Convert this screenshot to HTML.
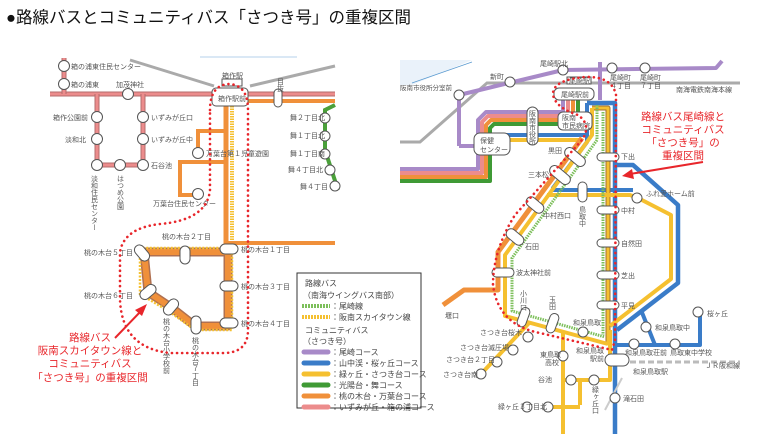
<!DOCTYPE html>
<html><head><meta charset="utf-8"><style>
html,body{margin:0;padding:0;background:#fff;width:759px;height:434px;overflow:hidden}
svg{display:block;font-family:"Liberation Sans","Noto Sans CJK JP",sans-serif}
.t{font-size:7px;fill:#555}
.r{font-size:10.5px;fill:#e8262b}
.lg{font-size:8px;fill:#444}
</style></head><body>
<svg width="759" height="434" viewBox="0 0 759 434">
<text x="6" y="23" font-size="16.5" fill="#111">●路線バスとコミュニティバス「さつき号」の重複区間</text>

<!-- LEFT MAP -->
<line x1="200" y1="57" x2="297" y2="57" stroke="#6aa5d8" stroke-width="0.6"/>
<polyline points="130,60 214,86" stroke="#aaa" stroke-width="3" fill="none"/>
<polyline points="250,86 335,66" stroke="#aaa" stroke-width="3" fill="none"/>
<line x1="50" y1="94" x2="335" y2="94" stroke="#b56c6c" stroke-width="5"/>
<line x1="50" y1="94" x2="335" y2="94" stroke="#ec8c8c" stroke-width="3"/>
<g stroke="#b56c6c" stroke-width="5" fill="none"><polyline points="64,58 64,94"/><polyline points="97,94 97,165 143,165 143,94"/></g>
<g stroke="#ec8c8c" stroke-width="3" fill="none"><polyline points="64,58 64,94"/><polyline points="97,94 97,165 143,165 143,94"/></g>
<line x1="248" y1="101" x2="335" y2="101" stroke="#f0903a" stroke-width="4"/>
<line x1="226" y1="106" x2="226" y2="250" stroke="#f0903a" stroke-width="5"/>
<line x1="232" y1="106" x2="232" y2="250" stroke="#f5c030" stroke-width="4" stroke-dasharray="1.5 1"/>
<line x1="226" y1="243" x2="335" y2="243" stroke="#f0903a" stroke-width="4"/>
<polyline points="226,131 198,131 198,153" stroke="#f0903a" stroke-width="4" fill="none"/>
<polyline points="226,162 180,162 180,195 198,195" stroke="#f0903a" stroke-width="4" fill="none"/>
<path d="M335,105 L325,110 L325,150 L338,190" stroke="#4aa03a" stroke-width="4" fill="none"/>
<polygon points="144,252 228,252 228,326 195,326 172,308 148,292" stroke="#b07050" stroke-width="9" fill="none" stroke-linejoin="round"/>
<polygon points="144,252 228,252 228,326 195,326 172,308 148,292" stroke="#f0903a" stroke-width="6" fill="none"/>
<path d="M140,251 L140,294 L170,312 L195,330 L232,330 L232,248 L140,248" stroke="#f5c030" stroke-width="2.5" stroke-dasharray="2 1.5" fill="none"/>
<g fill="#fff" stroke="#555" stroke-width="1">
<circle cx="64" cy="66" r="5.5"/><circle cx="64" cy="84" r="5.5"/><circle cx="128" cy="94" r="5.5"/>
<circle cx="97" cy="117" r="5.5"/><circle cx="97" cy="139" r="5.5"/><circle cx="97" cy="165" r="5.5"/><circle cx="120" cy="165" r="5.5"/><circle cx="143" cy="165" r="5.5"/><circle cx="143" cy="117" r="5.5"/><circle cx="143" cy="139" r="5.5"/>
<circle cx="198" cy="153" r="5.5"/><circle cx="198" cy="194" r="5.5"/>
<circle cx="325" cy="118" r="5"/><circle cx="325" cy="136" r="5"/><circle cx="325" cy="154" r="5"/><circle cx="330" cy="170" r="5"/><circle cx="335" cy="186" r="5"/>
<rect x="212" y="88" width="36" height="18" rx="4"/><rect x="222" y="79" width="20" height="7"/>
<rect x="274" y="89" width="8" height="18" rx="4"/>
<rect x="180" y="246" width="10" height="18" rx="5"/><rect x="220" y="244" width="18" height="10" rx="5"/>
<rect x="220" y="281" width="18" height="10" rx="5"/><rect x="220" y="318" width="18" height="10" rx="5"/>
<rect x="191" y="316" width="10" height="18" rx="5"/>
<rect x="137" y="244" width="10" height="18" rx="5" transform="rotate(-40 142 253)"/>
<rect x="143" y="283" width="10" height="18" rx="5" transform="rotate(50 148 292)"/>
<rect x="166" y="298" width="10" height="18" rx="5" transform="rotate(40 171 307)"/>
</g>
<g class="t">
<text x="71" y="69">箱の浦東住民センター</text><text x="71" y="87">箱の浦東</text><text x="116" y="87">加茂神社</text>
<text x="53" y="120">箱作公園前</text><text x="65" y="142">淡和北</text><text x="151" y="120">いずみが丘口</text><text x="151" y="142">いずみが丘中</text><text x="151" y="168">石谷池</text>
<text x="218" y="101">箱作駅前</text><text x="222" y="78">箱作駅</text><text x="206" y="156">万葉台第１児童遊園</text><text x="153" y="206">万葉台住民センター</text>
<text x="290" y="120">舞２丁目北</text><text x="290" y="138">舞１丁目北</text><text x="290" y="156">舞１丁目南</text><text x="288" y="172">舞４丁目北</text><text x="300" y="189">舞４丁目</text>
<text x="162" y="239">桃の木台２丁目</text><text x="84" y="255">桃の木台５丁目</text><text x="241" y="252">桃の木台１丁目</text><text x="241" y="289">桃の木台３丁目</text><text x="84" y="298">桃の木台６丁目</text><text x="241" y="326">桃の木台４丁目</text>
</g>
<g class="t"><text x="94" y="175" writing-mode="tb">淡和住民センター</text><text x="120" y="175" writing-mode="tb">はつめ公園</text><text x="166" y="318" writing-mode="tb">桃の木台小学校前</text><text x="195" y="337" writing-mode="tb">桃の木台７丁目</text><text x="280" y="78" writing-mode="tb">目抜</text></g>
<path d="M210,110 Q210,85 229,84 Q248,85 248,110 L248,330 Q248,352 225,353 L170,353 Q122,348 120,300 L120,252 Q124,228 160,224 Q207,220 210,190 Z" stroke="#e8262b" stroke-width="2.6" stroke-dasharray="0.1 5" stroke-linecap="round" fill="none"/>
<text class="r" text-anchor="middle"><tspan x="90" y="341">路線バス</tspan><tspan x="90" y="354">阪南スカイタウン線と</tspan><tspan x="90" y="367">コミュニティバス</tspan><tspan x="90" y="381">「さつき号」の重複区間</tspan></text>
<line x1="115" y1="338" x2="142" y2="310" stroke="#e8262b" stroke-width="2"/><polygon points="147,304 135,310 142,316" fill="#e8262b"/>

<!-- LEGEND -->
<rect x="297" y="273" width="124" height="135" fill="#fff" stroke="#333" stroke-width="1"/>
<g class="lg">
<text x="305" y="286">路線バス</text><text x="303" y="298">（南海ウイングバス南部）</text>
<text x="331" y="309">：尾崎線</text><text x="331" y="320">：阪南スカイタウン線</text>
<text x="305" y="333">コミュニティバス</text><text x="303" y="344">（さつき号）</text>
<text x="331" y="355">：尾崎コース</text><text x="331" y="366">：山中渓・桜ヶ丘コース</text><text x="331" y="377">：緑ヶ丘・さつき台コース</text><text x="331" y="388">：光陽台・舞コース</text><text x="331" y="399">：桃の木台・万葉台コース</text><text x="331" y="410">：いずみが丘・箱の浦コース</text>
</g>
<line x1="302" y1="306" x2="330" y2="306" stroke="#7cbf5a" stroke-width="4" stroke-dasharray="2 1"/>
<line x1="302" y1="317" x2="330" y2="317" stroke="#f5c030" stroke-width="4" stroke-dasharray="2 1"/>
<g stroke-width="5" stroke-linecap="round">
<line x1="304" y1="352" x2="328" y2="352" stroke="#a88ac8"/><line x1="304" y1="363" x2="328" y2="363" stroke="#3a7cc8"/><line x1="304" y1="374" x2="328" y2="374" stroke="#f5c030"/><line x1="304" y1="385" x2="328" y2="385" stroke="#3f9a35"/><line x1="304" y1="396" x2="328" y2="396" stroke="#f0903a"/><line x1="304" y1="407" x2="328" y2="407" stroke="#ec8c8c"/>
</g>

<!-- RIGHT MAP -->
<polygon points="400,60 472,60 412,85 400,85" fill="#eaf2fa"/>
<line x1="412" y1="83" x2="472" y2="62" stroke="#5a9ad0" stroke-width="0.7"/>
<polyline points="400,142 420,142 487,83 740,83" stroke="#aaa" stroke-width="3" fill="none"/>
<text class="t" x="676" y="92">南海電鉄南海本線</text>
<g fill="none" stroke-linejoin="round">
<polyline points="459,146 459,95 563,70 716,68 722,61" stroke="#a88ac8" stroke-width="4"/>
<line x1="600" y1="62" x2="600" y2="100" stroke="#a88ac8" stroke-width="4"/>
<polyline points="459,146 478,146" stroke="#a88ac8" stroke-width="4"/>
<polyline points="400,169 478,169 478,120 486,112 563,112 563,100" stroke="#a88ac8" stroke-width="4"/>
<polyline points="400,173 482,173 482,122 488,116 568,116 568,100" stroke="#ec8c8c" stroke-width="4"/>
<polyline points="400,177 486,177 486,125 491,120 573,120 573,100" stroke="#f0903a" stroke-width="4"/>
<polyline points="400,181 490,181 490,128 494,124 578,124 578,100" stroke="#3f9a35" stroke-width="4"/>
<polyline points="480,135 587,135" stroke="#3a7cc8" stroke-width="4"/>
<polyline points="480,140 582,140" stroke="#f5c030" stroke-width="4"/>
<!-- blue route -->
<polyline points="587,103 587,142 553,188 553,190 633,190" stroke="#3a7cc8" stroke-width="4"/>
<polyline points="587,103 615,103 615,434" stroke="#3a7cc8" stroke-width="4.5"/>
<polyline points="615,165 633,165 678,205 678,283 617,330" stroke="#3a7cc8" stroke-width="4.5"/>
<!-- yellow route -->
<polyline points="592,108 608,108 608,345" stroke="#a07030" stroke-width="5"/>
<polyline points="592,108 608,108 608,345" stroke="#f5c030" stroke-width="3"/>
<polyline points="547,195 630,195 638,198 671,215 671,279 610,326" stroke="#f5c030" stroke-width="4"/>
<line x1="603" y1="112" x2="603" y2="335" stroke="#7cbf5a" stroke-width="3" stroke-dasharray="1.5 1"/>
<!-- diagonal bundle -->
<polyline points="582,138 498,252 498,290 464,290 443,305" stroke="#f0903a" stroke-width="5"/>
<polyline points="592,108 592,135 505,255 505,316 608,344" stroke="#f5c030" stroke-width="4"/>
<polyline points="597,105 597,140 512,258 512,311 605,337" stroke="#7cbf5a" stroke-width="3" stroke-dasharray="1.5 1"/>
<polyline points="614,345 700,345 700,312" stroke="#3a7cc8" stroke-width="4"/>
<line x1="641" y1="310" x2="655" y2="345" stroke="#3a7cc8" stroke-width="4"/>
<polyline points="610,330 610,380 563,380" stroke="#f5c030" stroke-width="4"/>
<line x1="563" y1="332" x2="563" y2="434" stroke="#f5c030" stroke-width="4"/>
<line x1="580" y1="380" x2="580" y2="405" stroke="#f5c030" stroke-width="4"/>
<line x1="548" y1="407" x2="580" y2="407" stroke="#f5c030" stroke-width="4"/>
<line x1="530" y1="322" x2="481" y2="374" stroke="#f5c030" stroke-width="4"/>
<line x1="630" y1="362" x2="740" y2="362" stroke="#bbb" stroke-width="3" stroke-dasharray="6 3"/>
<line x1="622" y1="378" x2="605" y2="410" stroke="#ccc" stroke-width="2"/>
</g>
<g fill="#fff" stroke="#555" stroke-width="1">
<circle cx="459" cy="95" r="5"/><circle cx="510" cy="82" r="5"/><circle cx="563" cy="70" r="5"/><circle cx="612" cy="68" r="5"/><circle cx="645" cy="68" r="5"/>
<rect x="567" y="77" width="24" height="7"/>
<rect x="554" y="88" width="40" height="12" rx="5"/>
<rect x="474" y="133" width="36" height="22" rx="6"/><rect x="558" y="112" width="34" height="18" rx="5"/>
<rect x="527" y="107" width="11" height="38" rx="5.5"/>
<rect x="563" y="152" width="24" height="10" rx="5" transform="rotate(40 575 157)"/>
<rect x="548" y="170" width="24" height="10" rx="5" transform="rotate(40 560 175)"/>
<rect x="525" y="200" width="20" height="10" rx="5" transform="rotate(40 535 205)"/>
<rect x="505" y="232" width="20" height="10" rx="5" transform="rotate(40 515 237)"/>
<rect x="492" y="268" width="22" height="9" rx="4.5"/>
<rect x="519" y="307" width="9" height="20" rx="4.5" transform="rotate(20 523 317)"/>
<rect x="548" y="313" width="9" height="20" rx="4.5" transform="rotate(20 552 323)"/>
<rect x="597" y="153" width="22" height="8" rx="4"/><rect x="597" y="206" width="22" height="8" rx="4"/><rect x="597" y="239" width="22" height="8" rx="4"/><rect x="597" y="271" width="22" height="8" rx="4"/><rect x="597" y="301" width="22" height="8" rx="4"/>
<rect x="578" y="182" width="9" height="20" rx="4.5"/>
<rect x="605" y="354" width="24" height="12" rx="6"/>
<circle cx="637" cy="198" r="5"/><circle cx="646" cy="327" r="5"/><circle cx="634" cy="344" r="5"/><circle cx="675" cy="344" r="5"/><circle cx="698" cy="312" r="5"/>
<circle cx="583" cy="332" r="5"/><circle cx="563" cy="356" r="5"/><circle cx="571" cy="380" r="5"/><circle cx="594" cy="380" r="5"/><circle cx="548" cy="407" r="5"/><circle cx="527" cy="407" r="5"/><circle cx="615" cy="398" r="5"/>
<circle cx="528" cy="337" r="5"/><circle cx="513" cy="350" r="5"/><circle cx="497" cy="362" r="5"/><circle cx="481" cy="374" r="5"/>
</g>
<g class="t">
<text x="400" y="90" font-size="6.5">阪南市役所分室前</text><text x="490" y="79">新町</text><text x="540" y="66">尾崎駅北</text><text x="610" y="80">尾崎町</text><text x="610" y="88">４丁目</text><text x="640" y="80">尾崎町</text><text x="640" y="88">７丁目</text>
<text x="569" y="83">尾崎駅</text><text x="561" y="97">尾崎駅前</text><text x="480" y="143">保健</text><text x="480" y="152">センター</text><text x="562" y="120">阪南</text><text x="562" y="128">市民病院</text>
<text x="548" y="153">黒田</text><text x="528" y="177">三本松</text><text x="543" y="218">中村西口</text><text x="525" y="249">石田</text><text x="516" y="275">波太神社前</text>
<text x="621" y="159">下出</text><text x="646" y="196">ふれ愛ホーム前</text><text x="621" y="213">中村</text><text x="621" y="246">自然田</text><text x="621" y="278">芝出</text><text x="621" y="308">平見</text>
<text x="707" y="316">桜ヶ丘</text><text x="655" y="330">和泉鳥取中</text><text x="625" y="355">和泉鳥取荘前</text><text x="670" y="355">鳥取東中学校</text><text x="705" y="368">ＪＲ阪和線</text><text x="633" y="374">和泉鳥取駅</text>
<text x="573" y="325">和泉鳥取</text><text x="576" y="353">和泉鳥取</text><text x="590" y="361">駅前</text><text x="540" y="357">東鳥取</text><text x="545" y="365">高校</text><text x="538" y="382">谷池</text>
<text x="480" y="335">さつき台桜木</text><text x="460" y="350">さつき台滅圧場</text><text x="446" y="362">さつき台２丁目</text><text x="443" y="377">さつき台南</text><text x="498" y="409">緑ヶ丘３丁目北</text><text x="623" y="401">滝石田</text><text x="445" y="318">堰口</text>
</g>
<g class="t"><text x="532" y="110" writing-mode="tb">阪南市役所</text><text x="582" y="206" writing-mode="tb">鳥取中</text><text x="523" y="290" writing-mode="tb">小川口</text><text x="552" y="296" writing-mode="tb">玉田</text><text x="595" y="386" writing-mode="tb">緑ヶ丘口</text></g>
<path d="M616,95 Q612,76 585,77 Q552,80 553,95 Q556,108 578,115 Q592,125 582,140 L515,215 Q493,250 493,285 Q498,325 540,333 L612,350 L615,340 L616,100 Z" stroke="#e8262b" stroke-width="2.6" stroke-dasharray="0.1 5" stroke-linecap="round" fill="none"/>
<text class="r" text-anchor="middle"><tspan x="683" y="120">路線バス尾崎線と</tspan><tspan x="683" y="133">コミュニティバス</tspan><tspan x="683" y="146">「さつき号」の</tspan><tspan x="683" y="159">重複区間</tspan></text>
<line x1="703" y1="162" x2="630" y2="174" stroke="#e8262b" stroke-width="2"/><polygon points="622,176 632,169 634,179" fill="#e8262b"/>
</svg>
</body></html>
